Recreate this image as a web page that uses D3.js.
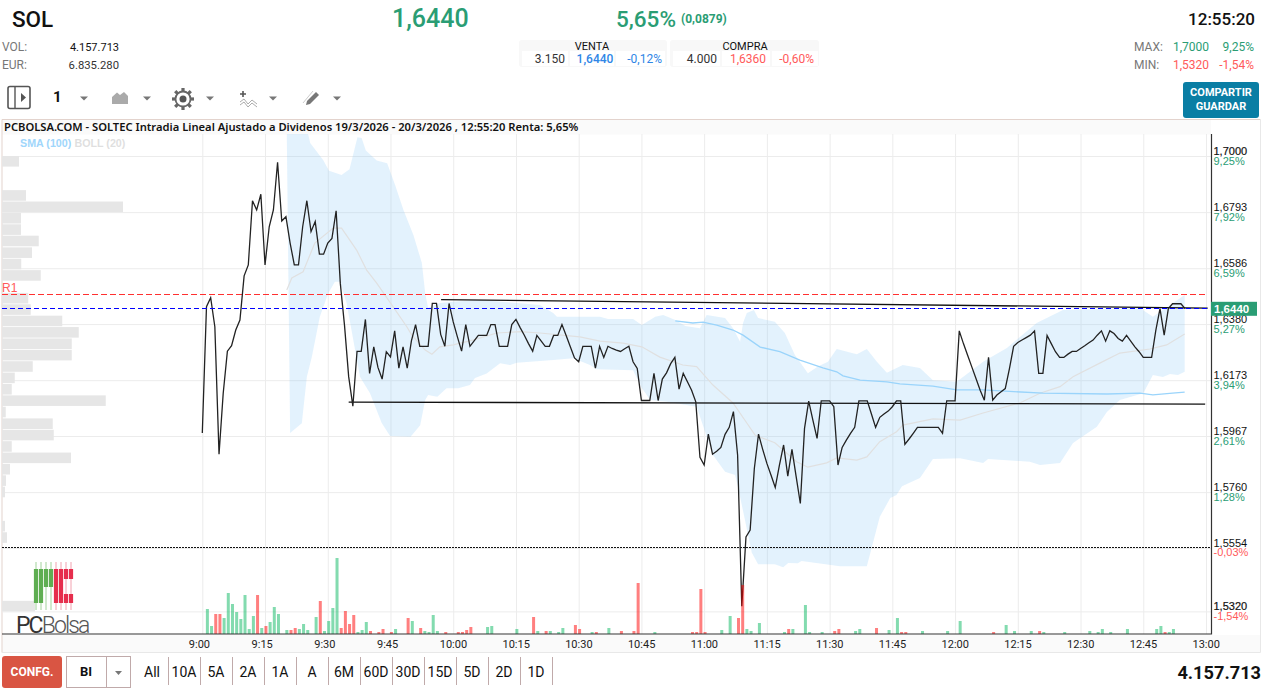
<!DOCTYPE html>
<html>
<head>
<meta charset="utf-8">
<title>SOL</title>
<script src="https://cdn.jsdelivr.net/npm/d3@7"></script>
<style>
  html, body { margin: 0; padding: 0; background: white; overflow: hidden; }
  svg { display: block; font-family: Roboto, sans-serif; }
</style>
</head>
<body>
<svg width="1274" height="693"></svg>
<script>
// last price per minute from 9:00 (index = minutes after 9:00)
const prices = [
  1.5978, 1.6444, 1.6477, 1.6370, 1.5900, 1.6125, 1.6280, 1.6300, 1.6358, 1.6395,
  1.6558, 1.6598, 1.6835, 1.6801, 1.6859, 1.6598, 1.6739, 1.6801, 1.6977, 1.6760,
  1.6776, 1.6679, 1.6598, 1.6598, 1.6739, 1.6835, 1.6721, 1.6758, 1.6638, 1.6638,
  1.6679, 1.6696, 1.6798, 1.6530, 1.6376, 1.6186, 1.6077, 1.6279, 1.6279, 1.6397,
  1.6198, 1.6296, 1.6220, 1.6177, 1.6278, 1.6259, 1.6355, 1.6217, 1.6296, 1.6217,
  1.6318, 1.6378, 1.6298, 1.6298, 1.6298, 1.6456, 1.6456, 1.6342, 1.6298, 1.6456,
  1.6388, 1.6333, 1.6280, 1.6378, 1.6298, 1.6318, 1.6338, 1.6338, 1.6338, 1.6378,
  1.6378, 1.6298, 1.6298, 1.6298, 1.6378, 1.6397, 1.6367, 1.6339, 1.6308, 1.6280,
  1.6338, 1.6318, 1.6298, 1.6298, 1.6338, 1.6338, 1.6378, 1.6338, 1.6296, 1.6255,
  1.6241, 1.6298, 1.6298, 1.6298, 1.6217, 1.6298, 1.6257, 1.6298, 1.6290, 1.6284,
  1.6279, 1.6289, 1.6298, 1.6241, 1.6216, 1.6098, 1.6098, 1.6098, 1.6198, 1.6098,
  1.6177, 1.6200, 1.6234, 1.6257, 1.6140, 1.6198, 1.6167, 1.6136, 1.6093, 1.5888,
  1.5860, 1.5974, 1.5900, 1.5911, 1.5925, 1.5973, 1.5999, 1.6057, 1.5897, 1.5339,
  1.5595, 1.5620, 1.5847, 1.5974, 1.5918, 1.5866, 1.5822, 1.5777, 1.5860, 1.5934,
  1.5819, 1.5918, 1.5817, 1.5718, 1.5995, 1.6096, 1.6026, 1.5958, 1.6097, 1.6097,
  1.6097, 1.6075, 1.5860, 1.5925, 1.5952, 1.5977, 1.5999, 1.6097, 1.6097, 1.6097,
  1.6048, 1.5999, 1.6036, 1.6048, 1.6059, 1.6075, 1.6097, 1.6097, 1.5936, 1.5956,
  1.5977, 1.5999, 1.5999, 1.5999, 1.5999, 1.5999, 1.5999, 1.5977, 1.6097, 1.6097,
  1.6097, 1.6355, 1.6308, 1.6265, 1.6222, 1.6179, 1.6136, 1.6099, 1.6257, 1.6099,
  1.6118, 1.6130, 1.6142, 1.6216, 1.6298, 1.6312, 1.6321, 1.6330, 1.6339, 1.6355,
  1.6198, 1.6198, 1.6338, 1.6308, 1.6278, 1.6257, 1.6257, 1.6269, 1.6279, 1.6279,
  1.6290, 1.6300, 1.6311, 1.6321, 1.6339, 1.6355, 1.6317, 1.6355, 1.6345, 1.6327,
  1.6317, 1.6338, 1.6317, 1.6296, 1.6278, 1.6257, 1.6257, 1.6257, 1.6357, 1.6437,
  1.6339, 1.6437, 1.6455, 1.6455, 1.6455, 1.6437
];

// bollinger band, read at its corners
const upperMinutes = [20.2, 25.3, 25.8, 28.9, 30.3, 33.3, 35.2, 37.1, 38.1, 39.1, 41.7, 44.2, 46.1, 48.1, 50.5, 52.5, 53.3, 54, 56.8, 60, 66.4, 80.7, 83.9, 84.8, 90.3, 95.1, 97, 103, 105.1, 108.3, 110.2, 113.1, 115.5, 119, 120.6, 125, 126.9, 128.6, 129.3, 130.2, 131.9, 132.9, 136.9, 139.3, 141.7, 144.8, 147.2, 149.6, 151.7, 156.5, 158.9, 161.3, 163.7, 167.5, 171.6, 174.7, 180.4, 186.7, 192.4, 199.5, 205.8, 224.2, 227.3, 231.4, 234.9];
const upperPrices = [1.7081, 1.7081, 1.7048, 1.6985, 1.6946, 1.6930, 1.6951, 1.7069, 1.7066, 1.7020, 1.6983, 1.6973, 1.6893, 1.6801, 1.6708, 1.6605, 1.6494, 1.6439, 1.6458, 1.6462, 1.6469, 1.6450, 1.6421, 1.6407, 1.6407, 1.6407, 1.6399, 1.6399, 1.6377, 1.6407, 1.6413, 1.6395, 1.6373, 1.6365, 1.6413, 1.6402, 1.6365, 1.6315, 1.6384, 1.6421, 1.6432, 1.6402, 1.6389, 1.6347, 1.6266, 1.6199, 1.6223, 1.6241, 1.6288, 1.6269, 1.6288, 1.6241, 1.6200, 1.6229, 1.6218, 1.6173, 1.6167, 1.6241, 1.6292, 1.6384, 1.6432, 1.6439, 1.6407, 1.6450, 1.6487];
const lowerMinutes = [21, 23.8, 25, 26.2, 28.1, 30.1, 31.7, 32.9, 34.5, 37.7, 40.1, 42.9, 44.9, 49.8, 52.1, 53.3, 54, 56.2, 58.4, 61.2, 64, 65.2, 68, 71.2, 73.6, 75.2, 83.9, 88.7, 92.7, 94.3, 103, 105.1, 107.1, 111.1, 118.2, 122.1, 125, 127.4, 128.1, 131.4, 132.9, 136.9, 138.9, 140.1, 142.4, 143.3, 152.5, 158.9, 162, 164.5, 166, 167.3, 171.6, 174.7, 181.2, 186.7, 187.9, 197.9, 200.3, 205.1, 208.2, 213.9, 216.3, 219.4, 225, 227.3, 229.7, 231.4, 233.3, 234.9];
const lowerPrices = [1.5978, 1.6014, 1.6186, 1.6259, 1.6407, 1.6493, 1.6536, 1.6536, 1.6458, 1.6186, 1.6125, 1.6015, 1.5967, 1.5964, 1.6007, 1.6100, 1.6118, 1.6112, 1.6143, 1.6143, 1.6155, 1.6181, 1.6198, 1.6235, 1.6229, 1.6237, 1.6247, 1.6254, 1.6229, 1.6213, 1.6210, 1.6144, 1.6100, 1.6093, 1.6075, 1.5897, 1.5835, 1.5823, 1.5779, 1.5536, 1.5494, 1.5494, 1.5483, 1.5499, 1.5498, 1.5506, 1.5487, 1.5487, 1.5669, 1.5738, 1.5749, 1.5782, 1.5812, 1.5882, 1.5885, 1.5867, 1.5882, 1.5872, 1.5860, 1.5867, 1.5941, 1.6001, 1.6056, 1.6100, 1.6125, 1.6192, 1.6185, 1.6196, 1.6192, 1.6204];
const middleMinutes = [20.2, 21.4, 24.1, 26.9, 31.3, 33.3, 36.9, 39.3, 41.7, 45.6, 48.9, 50.1, 53.3, 54.9, 56.8, 60, 64.7, 70.4, 76, 80.7, 90.3, 95.1, 100.6, 105.1, 109.4, 114.9, 118.2, 122.1, 126.9, 130.2, 132.2, 136.9, 142.1, 144.8, 149.3, 151.7, 156.5, 158.9, 162, 166, 167.5, 174.7, 181.2, 186.7, 195.5, 200.3, 205.1, 208.2, 214.6, 219.4, 226.6, 230.6, 234.9];
const middlePrices = [1.6506, 1.6550, 1.6573, 1.6679, 1.6734, 1.6734, 1.6653, 1.6579, 1.6531, 1.6444, 1.6370, 1.6339, 1.6284, 1.6269, 1.6296, 1.6303, 1.6321, 1.6347, 1.6352, 1.6347, 1.6333, 1.6317, 1.6310, 1.6296, 1.6258, 1.6229, 1.6223, 1.6155, 1.6089, 1.6015, 1.5970, 1.5942, 1.5872, 1.5852, 1.5868, 1.5886, 1.5878, 1.5890, 1.5946, 1.5983, 1.6007, 1.6030, 1.6026, 1.6052, 1.6089, 1.6125, 1.6149, 1.6186, 1.6236, 1.6273, 1.6288, 1.6303, 1.6343];

// SMA (100)
const smaMinutes = [113.1, 117.3, 119.7, 123, 126.9, 129.3, 133.4, 138.1, 142.9, 148.4, 151.7, 153.2, 157.3, 163.7, 166.8, 174.7, 180.4, 186.7, 201, 216.3, 224.2, 227.3, 232, 234.9];
const smaPrices = [1.6392, 1.6384, 1.6387, 1.6376, 1.6358, 1.6339, 1.6295, 1.6278, 1.6247, 1.6218, 1.6204, 1.6189, 1.6173, 1.6167, 1.6159, 1.6151, 1.6137, 1.6137, 1.6125, 1.6122, 1.6125, 1.6119, 1.6125, 1.6129];

// traded volume per minute, thousands of shares (1 = up tick, 0 = down tick)
const volumeMinutes = [1, 2, 3, 4, 5, 6, 7, 8, 9, 10, 11, 12, 13, 14, 15, 16, 17, 18, 20, 21, 22, 23, 24, 25, 27, 28, 29, 30, 31, 32, 33, 34, 35, 36, 37, 38, 39, 40, 42, 43, 45, 46, 49, 50, 52, 53, 54, 55, 56, 58, 61, 62, 63, 64, 68, 69, 75, 79, 80, 82, 83, 85, 86, 89, 90, 93, 94, 97, 100, 103, 104, 108, 117, 118, 119, 120, 124, 126, 128, 129, 130, 131, 133, 139, 140, 141, 144, 145, 148, 151, 152, 156, 157, 161, 164, 166, 167, 168, 172, 178, 181, 189, 192, 194, 198, 200, 201, 206, 212, 214, 215, 217, 221, 228, 229, 230, 231, 232];
const volumeValues = [100, 32, 80, 80, 64, 164, 120, 88, 60, 156, 20, 72, 156, 24, 32, 48, 108, 80, 16, 16, 24, 20, 40, 16, 68, 132, 12, 52, 104, 304, 24, 92, 40, 76, 8, 16, 48, 12, 8, 20, 8, 20, 64, 52, 24, 12, 8, 76, 12, 8, 8, 8, 16, 28, 28, 32, 20, 68, 12, 12, 12, 8, 24, 36, 20, 8, 8, 24, 12, 12, 204, 8, 8, 8, 180, 8, 16, 72, 64, 196, 20, 12, 44, 8, 20, 20, 116, 8, 8, 12, 20, 12, 20, 24, 16, 64, 8, 8, 12, 12, 52, 8, 36, 12, 12, 12, 8, 8, 12, 8, 20, 8, 20, 20, 32, 8, 8, 20];
const volumeUp = [1, 1, 0, 0, 1, 1, 1, 1, 1, 1, 1, 1, 0, 1, 0, 1, 1, 1, 1, 0, 0, 1, 1, 1, 1, 0, 1, 1, 1, 1, 0, 0, 0, 0, 1, 1, 1, 0, 0, 0, 0, 1, 0, 1, 0, 1, 1, 1, 1, 0, 0, 0, 0, 0, 1, 1, 1, 0, 1, 0, 1, 1, 1, 0, 0, 1, 0, 1, 0, 0, 0, 1, 0, 0, 0, 0, 1, 1, 0, 0, 1, 1, 1, 1, 0, 1, 1, 1, 1, 0, 0, 1, 1, 0, 1, 1, 0, 0, 1, 1, 1, 0, 1, 1, 1, 0, 1, 1, 1, 1, 1, 1, 1, 1, 1, 0, 1, 1];

// volume at price, left side of the chart (top price of each bin)
const profilePrices = [1.7000, 1.6874, 1.6832, 1.6790, 1.6748, 1.6706, 1.6663, 1.6621, 1.6579, 1.6495, 1.6453, 1.6411, 1.6369, 1.6327, 1.6285, 1.6243, 1.6201, 1.6159, 1.6117, 1.6075, 1.6032, 1.5990, 1.5948, 1.5906, 1.5864, 1.5822, 1.5780, 1.5654, 1.5612, 1.5359];
const profileValues = [68, 96, 484, 76, 76, 147, 120, 77, 155, 105, 115, 241, 307, 279, 279, 123, 51, 39, 415, 15, 203, 207, 39, 276, 32, 16, 12, 12, 20, 132];
const profileBinSize = 0.0042;

// axes
const timeTicks = [0, 15, 30, 45, 60, 75, 90, 105, 120, 135, 150, 165, 180, 195, 210, 225, 240];
const timeLabels = ['9:00', '9:15', '9:30', '9:45', '10:00', '10:15', '10:30', '10:45', '11:00', '11:15', '11:30', '11:45', '12:00', '12:15', '12:30', '12:45', '13:00'];
const priceTicks = [1.7000, 1.6793, 1.6586, 1.6380, 1.6173, 1.5967, 1.5760, 1.5554, 1.5320];
const priceLabels = ['1,7000', '1,6793', '1,6586', '1,6380', '1,6173', '1,5967', '1,5760', '1,5554', '1,5320'];
const percentLabels = ['9,25%', '7,92%', '6,59%', '5,27%', '3,94%', '2,61%', '1,28%', '-0,03%', '-1,54%'];

// levels and trend lines
const lastPrice = 1.6440;
const resistance = 1.6491;
const previousClose = 1.5556;
const upperTrend = [[57.1, 1.6470], [240.4, 1.6439]];
const lowerTrend = [[35, 1.6092], [239.8, 1.6085]];

const rangeButtons = ['All', '10A', '5A', '2A', '1A', 'A', '6M', '60D', '30D', '15D', '5D', '2D', '1D'];

const GREEN = '#2a9d74';
const RED = '#ff5a5a';
const BLUE = '#2f86e6';
const GRID = '#ececec';
const FRAME = '#e3d3cd';

const svg = d3.select('svg');
const margin = { top: 134, bottom: 634, left: 2, right: 1211.5 };

const xScale = d3.scaleLinear().domain([0, 240]).range([202.3, 1206]);
const yScale = d3.scaleLinear().domain([1.7, 1.532]).range([156, 611.4]);
const volumeScale = d3.scaleLinear().domain([0, 304]).range([634, 558]);
const profileScale = d3.scaleLinear().domain([0, 484]).range([2, 123]);

const addText = (parent, x, y, str, opts = {}) => parent.append('text')
    .attr('x', x)
    .attr('y', y)
    .attr('text-anchor', opts.anchor || 'start')
    .style('font-family', opts.family || 'Roboto, sans-serif')
    .style('font-size', (opts.size || 12) + 'px')
    .style('font-weight', opts.weight || 400)
    .attr('fill', opts.fill || '#111')
    .text(str);

// ---- header ----
const header = svg.append('g');
addText(header, 12, 27, 'SOL', { size: 22.5, weight: 500 });
addText(header, 392, 27, '1,6440', { size: 25, weight: 500, fill: GREEN });
addText(header, 616, 27, '5,65%', { size: 22.5, weight: 500, fill: GREEN });
addText(header, 681, 23, '(0,0879)', { size: 12, weight: 700, fill: GREEN });
addText(header, 1255, 25, '12:55:20', { size: 17, weight: 500, anchor: 'end' });

addText(header, 2, 51, 'VOL:', { fill: '#777' });
addText(header, 119, 51, '4.157.713', { anchor: 'end', size: 11 });
addText(header, 2, 69, 'EUR:', { fill: '#777' });
addText(header, 119, 69, '6.835.280', { anchor: 'end', fill: '#333', size: 11.3 });

[[519, 148, 'VENTA', 592], [670, 149, 'COMPRA', 745]].forEach(([x, w, label, cx]) => {
    header.append('rect').attr('x', x).attr('y', 40).attr('width', w).attr('height', 27).attr('rx', 3).attr('fill', '#f8f8f8');
    addText(header, cx, 50, label, { size: 11, anchor: 'middle' });
});
[[522, 46], [570, 44], [616, 49], [673, 47], [722, 48], [772, 46]].forEach(([x, w]) => {
    header.append('rect').attr('x', x).attr('y', 51).attr('width', w).attr('height', 15).attr('fill', 'white');
});
addText(header, 565, 63, '3.150', { anchor: 'end', fill: '#333' });
addText(header, 595, 63, '1,6440', { anchor: 'middle', fill: BLUE, weight: 500 });
addText(header, 662, 63, '-0,12%', { anchor: 'end', fill: BLUE });
addText(header, 717, 63, '4.000', { anchor: 'end', fill: '#333' });
addText(header, 748, 63, '1,6360', { anchor: 'middle', fill: RED });
addText(header, 814, 63, '-0,60%', { anchor: 'end', fill: RED });

addText(header, 1134, 51, 'MAX:', { fill: '#777' });
addText(header, 1209, 51, '1,7000', { anchor: 'end', fill: GREEN });
addText(header, 1254, 51, '9,25%', { anchor: 'end', fill: GREEN });
addText(header, 1134, 69, 'MIN:', { fill: '#777' });
addText(header, 1209, 69, '1,5320', { anchor: 'end', fill: RED });
addText(header, 1254, 69, '-1,54%', { anchor: 'end', fill: RED });

header.append('rect').attr('x', 1183).attr('y', 82).attr('width', 76).attr('height', 36).attr('rx', 3).attr('fill', '#0a7ea4');
addText(header, 1221, 96, 'COMPARTIR', { size: 11, weight: 700, fill: 'white', anchor: 'middle' });
addText(header, 1221, 110, 'GUARDAR', { size: 11, weight: 700, fill: 'white', anchor: 'middle' });

// ---- toolbar ----
const toolbar = svg.append('g');
toolbar.append('rect').attr('x', 8).attr('y', 86.5).attr('width', 22).attr('height', 22).attr('rx', 2)
    .attr('fill', 'none').attr('stroke', '#555').attr('stroke-width', 1.6);
toolbar.append('line').attr('x1', 15).attr('x2', 15).attr('y1', 87).attr('y2', 108).attr('stroke', '#555').attr('stroke-width', 1.4);
toolbar.append('path').attr('d', 'M21,93 L26,97.5 L21,102 Z').attr('fill', '#555');
addText(toolbar, 53, 102, '1', { size: 15, weight: 700 });
[84, 147, 210, 273, 337].forEach(x => {
    toolbar.append('path').attr('d', `M${x - 4},96.5 L${x + 4},96.5 L${x},100.5 Z`).attr('fill', '#777');
});
toolbar.append('path').attr('d', 'M112,104 L112,97 L117,92.5 L120,95 L124,92 L128,96 L128,104 Z').attr('fill', '#aaa');
const gear = toolbar.append('g').attr('transform', 'translate(183,99)');
gear.append('circle').attr('r', 7.5).attr('fill', 'none').attr('stroke', '#666').attr('stroke-width', 1.8);
gear.append('circle').attr('r', 3.5).attr('fill', '#555');
d3.range(8).forEach(i => {
    gear.append('rect').attr('x', -1.6).attr('y', -11).attr('width', 3.2).attr('height', 3.5).attr('fill', '#666')
        .attr('transform', `rotate(${i * 45})`);
});
toolbar.append('path').attr('d', 'M243,91 V97 M240,94 H246').attr('stroke', '#555').attr('stroke-width', 1.6);
toolbar.append('path').attr('d', 'M240,102 L244,99 L248,104 L252,100 L257,104 M240,105 L244,102 L248,107 L252,103 L257,107')
    .attr('fill', 'none').attr('stroke', '#888').attr('stroke-width', 0.7);
toolbar.append('path').attr('d', 'M306,105 L307,101 L316,92 L319,95 L310,104 Z').attr('fill', '#777');
toolbar.append('path').attr('d', 'M303,103 L313,91').attr('stroke', '#ccc').attr('stroke-width', 1);

// ---- chart frame ----
const frame = svg.append('g');
frame.append('rect').attr('x', 2).attr('y', 120).attr('width', 1209).attr('height', 14.5).attr('fill', '#fafafa');
frame.append('rect').attr('x', 2).attr('y', 635).attr('width', 1259).attr('height', 17).attr('fill', '#fafafa');
frame.append('path').attr('d', 'M2,652.5 V119.5 H1260.5').attr('fill', 'none').attr('stroke', FRAME);
frame.append('path').attr('d', 'M2,652.5 H1260.5 V119.5').attr('fill', 'none').attr('stroke', '#e8e8e8');
addText(frame, 4, 131, 'PCBOLSA.COM - SOLTEC Intradia Lineal Ajustado a Dividenos 19/3/2026 - 20/3/2026 , 12:55:20 Renta: 5,65%', { size: 11.2, weight: 600, family: '"Noto Sans", sans-serif', fill: '#111' });

svg.append('clipPath').attr('id', 'plot-clip').append('rect')
    .attr('x', margin.left).attr('y', margin.top).attr('width', margin.right - margin.left).attr('height', margin.bottom - margin.top);

// ---- grid and axes ----
const xAxis = d3.axisBottom(xScale)
      .tickValues(timeTicks)
      .tickFormat((d, i) => timeLabels[i])
      .tickSize(-(margin.bottom - margin.top))
      .tickPadding(6);
const xAxisGroup = svg.append('g')
      .attr('transform', `translate(0, ${margin.bottom})`)
      .call(xAxis);
xAxisGroup.selectAll('.domain').remove();
xAxisGroup.selectAll('line').attr('stroke', GRID);
xAxisGroup.selectAll('text')
    .attr('text-anchor', 'start')
    .attr('dx', -14)
    .style('font-family', 'Roboto, sans-serif')
    .style('font-size', '11px')
    .attr('fill', '#222');

const yGrid = d3.axisLeft(yScale)
      .tickValues(priceTicks)
      .tickFormat('')
      .tickSize(margin.right - margin.left);
const yGridGroup = svg.append('g')
      .attr('transform', `translate(${margin.right}, 0)`)
      .call(yGrid);
yGridGroup.selectAll('.domain').remove();
yGridGroup.selectAll('line').attr('stroke', GRID);

const yAxis = d3.axisRight(yScale)
      .tickValues(priceTicks)
      .tickFormat((d, i) => priceLabels[i])
      .tickSize(0)
      .tickPadding(2);
const yAxisGroup = svg.append('g')
      .attr('transform', `translate(${margin.right}, 0)`)
      .call(yAxis);
yAxisGroup.selectAll('.domain').remove();
yAxisGroup.selectAll('text')
    .attr('dy', '-0.18em')
    .style('font-family', '"Liberation Sans", Arial, sans-serif')
    .style('font-size', '11px')
    .attr('fill', '#111')
    .attr('stroke', (d, i) => (i === 0 || i === priceTicks.length - 1) ? '#111' : 'none')
    .attr('stroke-width', 0.2);
yAxisGroup.selectAll('.tick').append('text')
    .attr('x', 2)
    .attr('y', 8)
    .style('font-family', '"Liberation Sans", Arial, sans-serif')
    .style('font-size', '11px')
    .attr('fill', (d, i) => percentLabels[i].startsWith('-') ? RED : GREEN)
    .text((d, i) => percentLabels[i]);

// ---- chart marks ----
const plot = svg.append('g').attr('clip-path', 'url(#plot-clip)');

const zipSeries = (minutes, values) => minutes.map((m, i) => [m, values[i]]);
const pathLine = d3.line().x(d => xScale(d[0])).y(d => yScale(d[1]));

// bollinger band: upper edge forward, lower edge back
const bandPoints = zipSeries(upperMinutes, upperPrices).concat(zipSeries(lowerMinutes, lowerPrices).reverse());
plot.append('path')
    .attr('d', pathLine(bandPoints) + 'Z')
    .attr('fill', '#87c8f5')
    .attr('fill-opacity', 0.23);

plot.selectAll('rect.profile').data(profilePrices)
    .enter()
    .append('rect')
    .attr('class', 'profile')
    .attr('x', profileScale(0))
    .attr('y', d => yScale(d))
    .attr('width', (d, i) => profileScale(profileValues[i]) - profileScale(0))
    .attr('height', yScale(1.7 - profileBinSize) - yScale(1.7) - 0.8)
    .attr('fill', '#e6e6e6');

plot.append('path')
    .attr('d', pathLine(zipSeries(middleMinutes, middlePrices)))
    .attr('fill', 'none')
    .attr('stroke', '#e0e0e0')
    .attr('stroke-width', 1.2);

plot.append('path')
    .attr('d', pathLine(zipSeries(smaMinutes, smaPrices)))
    .attr('fill', 'none')
    .attr('stroke', '#9ad4fb')
    .attr('stroke-width', 1.3);

[upperTrend, lowerTrend].forEach(trend => {
    plot.append('path')
        .attr('d', pathLine(trend))
        .attr('stroke', '#111')
        .attr('stroke-width', 1.3)
        .attr('fill', 'none');
});

const addLevel = (price, color, dash, end) => plot.append('line')
    .attr('x1', margin.left)
    .attr('x2', end)
    .attr('y1', Math.round(yScale(price)) + 0.5)
    .attr('y2', Math.round(yScale(price)) + 0.5)
    .attr('stroke', color)
    .attr('stroke-width', 1)
    .attr('stroke-dasharray', dash);
addLevel(resistance, '#ff3030', '6,3', 1207);
addLevel(previousClose, '#111', '2,1', margin.right);

plot.append('path')
    .attr('d', pathLine(prices.map((p, i) => [i, p])))
    .attr('fill', 'none')
    .attr('stroke', '#222')
    .attr('stroke-width', 1.3);

// last price level goes over the trend line so the blue stays visible
addLevel(lastPrice, '#0000ff', '5,3', 1207);

plot.selectAll('rect.volume').data(volumeMinutes)
    .enter()
    .append('rect')
    .attr('class', 'volume')
    .attr('x', d => xScale(d) - 0.6)
    .attr('y', (d, i) => volumeScale(volumeValues[i]))
    .attr('width', 3)
    .attr('height', (d, i) => volumeScale(0) - volumeScale(volumeValues[i]))
    .attr('fill', (d, i) => volumeUp[i] ? '#07b860' : '#ff0000')
    .attr('fill-opacity', 0.5);

addText(svg, 2, 292, 'R1', { size: 12, fill: RED, family: '"Liberation Sans", Arial, sans-serif' });
addText(svg, 20, 147, 'SMA (100)', { size: 10.7, weight: 700, fill: '#a0d6fb', family: '"Liberation Sans", Arial, sans-serif' });
addText(svg, 74.5, 147, 'BOLL (20)', { size: 10.7, weight: 700, fill: '#dfdfdf', family: '"Liberation Sans", Arial, sans-serif' });

// axis lines sit on top of the marks
svg.append('path')
    .attr('d', `M${margin.left},${margin.bottom} H${margin.right} V${margin.top}`)
    .attr('fill', 'none')
    .attr('stroke', '#333')
    .attr('stroke-width', 1.2);

svg.append('rect').attr('x', 1211).attr('y', yScale(lastPrice) - 6).attr('width', 46).attr('height', 14).attr('fill', GREEN);
addText(svg, 1214, yScale(lastPrice) + 5.5, '1,6440', { size: 11.5, weight: 700, fill: 'white', family: '"Liberation Sans", Arial, sans-serif' });

// ---- logo ----
const logo = svg.append('g');
[36, 41, 46, 51].forEach((x, i) => {
    logo.append('line').attr('x1', x).attr('x2', x).attr('y1', 562).attr('y2', 610).attr('stroke', '#8cc683').attr('stroke-width', 0.8);
    logo.append('rect').attr('x', x - 2.1).attr('y', 569).attr('width', 4.2).attr('height', i < 2 ? 34 : 18).attr('fill', '#5fae52');
});
[56, 61, 66, 71].forEach((x, i) => {
    logo.append('line').attr('x1', x).attr('x2', x).attr('y1', 562).attr('y2', 610).attr('stroke', '#ef8b9c').attr('stroke-width', 0.8);
    if (i < 2) {
        logo.append('rect').attr('x', x - 2.1).attr('y', 569).attr('width', 4.2).attr('height', 34).attr('fill', '#e62e4d');
    } else {
        logo.append('rect').attr('x', x - 2.1).attr('y', 569).attr('width', 4.2).attr('height', 10).attr('fill', '#e62e4d');
        logo.append('rect').attr('x', x - 2.1).attr('y', 594).attr('width', 4.2).attr('height', 9).attr('fill', '#e62e4d');
    }
});
const logoText = addText(logo, 16, 633, 'PC', { size: 23, weight: 400, fill: '#333' }).style('letter-spacing', '-1.9px');
logoText.append('tspan').attr('fill', '#555').style('font-weight', 300).text('Bolsa');

// ---- bottom bar ----
const bottom = svg.append('g');
bottom.append('rect').attr('x', 2).attr('y', 656).attr('width', 60).attr('height', 32).attr('rx', 3).attr('fill', '#d95543');
addText(bottom, 32, 676, 'CONFG.', { size: 12, weight: 700, fill: 'white', anchor: 'middle' });
bottom.append('rect').attr('x', 66.5).attr('y', 656.5).attr('width', 64).attr('height', 31).attr('fill', 'white').attr('stroke', '#c0aaaa');
bottom.append('line').attr('x1', 106.5).attr('x2', 106.5).attr('y1', 656).attr('y2', 688).attr('stroke', '#c0aaaa');
addText(bottom, 86, 676, 'BI', { size: 13, weight: 700, anchor: 'middle' });
bottom.append('path').attr('d', 'M115,671 L122,671 L118.5,675 Z').attr('fill', '#777');

const rangeScale = d3.scalePoint().domain(rangeButtons).range([152, 536]);
bottom.selectAll('text.range').data(rangeButtons)
    .enter()
    .append('text')
    .attr('class', 'range')
    .attr('x', d => rangeScale(d))
    .attr('y', 677)
    .attr('text-anchor', 'middle')
    .style('font-size', '14px')
    .attr('fill', '#111')
    .text(d => d);
bottom.selectAll('line.sep').data(rangeButtons)
    .enter()
    .append('line')
    .attr('class', 'sep')
    .attr('x1', d => rangeScale(d) + 16.5)
    .attr('x2', d => rangeScale(d) + 16.5)
    .attr('y1', 657)
    .attr('y2', 685)
    .attr('stroke', '#c0aaaa');

addText(bottom, 1261, 679, '4.157.713', { size: 18.2, weight: 700, anchor: 'end' });
</script>
</body>
</html>
